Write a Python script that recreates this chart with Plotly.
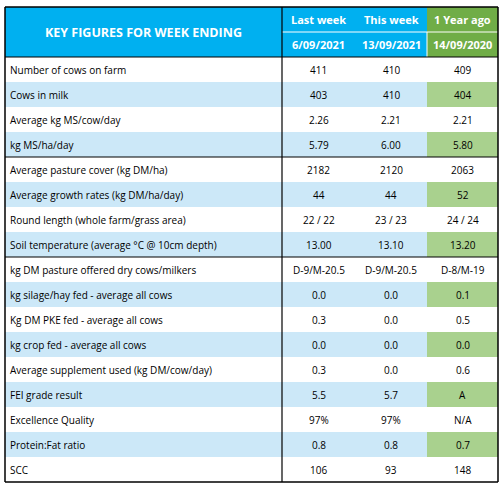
import plotly.graph_objects as go

labels = ["Number of cows on farm","Cows in milk","Average kg MS/cow/day","kg MS/ha/day",
 "Average pasture cover (kg DM/ha)","Average growth rates (kg DM/ha/day)","Round length (whole farm/grass area)",
 "Soil temperature (average °C @ 10cm depth)","kg DM pasture offered dry cows/milkers",
 "kg silage/hay fed - average all cows","Kg DM PKE fed - average all cows","kg crop fed - average all cows",
 "Average supplement used (kg DM/cow/day)","FEI grade result","Excellence Quality","Protein:Fat ratio","SCC"]
last_week = ["411","403","2.26","5.79","2182","44","22 / 22","13.00","D-9/M-20.5","0.0","0.3","0.0","0.3","5.5","97%","0.8","106"]
this_week = ["410","410","2.21","6.00","2120","44","23 / 23","13.10","D-9/M-20.5","0.0","0.0","0.0","0.0","5.7","97%","0.8","93"]
year_ago = ["409","404","2.21","5.80","2063","52","24 / 24","13.20","D-8/M-19","0.1","0.5","0.0","0.6","A","N/A","0.7","148"]
col_heads = ["Last week","This week","1 Year ago"]
col_dates = ["6/09/2021","13/09/2021","14/09/2020"]
title = "KEY FIGURES FOR WEEK ENDING"

X0, XL, XA, XB, X1 = 5, 282, 355, 427, 498
Y0, YH, YD = 7, 32, 57
RH = 25.0
BLUE, GREEN, LBLUE, LGREEN = "#00B0F0", "#70AD47", "#CCE8F8", "#A9D18E"
FONT = "Open Sans"

shapes, ann = [], []
def rect(x0, y0, x1, y1, fill):
    shapes.append(dict(type="rect", x0=x0, x1=x1, y0=y0, y1=y1, fillcolor=fill, line=dict(width=0), layer="below"))
def line(x0, y0, x1, y1, w=1, c="black"):
    shapes.append(dict(type="line", x0=x0, x1=x1, y0=y0, y1=y1, line=dict(color=c, width=w)))
def text(x, y, s, color="black", size=10, anchor="center"):
    ann.append(dict(x=x, y=y, text=s, showarrow=False, xanchor=anchor, yanchor="middle",
                    font=dict(family=FONT, size=size, color=color)))

rect(X0, Y0, XB, YD, BLUE)
rect(XB, Y0, X1, YD, GREEN)
line(XL, YH, X1, YH, 1, "white")
text((X0 + XL) / 2, (Y0 + YD) / 2, "<b>" + title + "</b>", "white", 12.5)
cx = [(XL + XA) / 2, (XA + XB) / 2, (XB + X1) / 2]
for i in range(3):
    text(cx[i], (Y0 + YH) / 2, "<b>" + col_heads[i] + "</b>", "white", 11)
    text(cx[i], (YH + YD) / 2, "<b>" + col_dates[i] + "</b>", "white", 11)

n = len(labels)
for r in range(n):
    y0 = YD + r * RH
    y1 = y0 + RH
    if r % 2 == 1:
        rect(X0, y0, XB, y1, LBLUE)
        rect(XB, y0, X1, y1, LGREEN)
    ym = (y0 + y1) / 2
    text(X0 + 3, ym, labels[r], anchor="left")
    for i, v in enumerate([last_week[r], this_week[r], year_ago[r]]):
        text(cx[i], ym, v)

YE = YD + n * RH
line(X0, Y0, X1, Y0, 1.5); line(X0, YE, X1, YE, 1.5)
line(X0, Y0, X0, YE, 1.5); line(X1, Y0, X1, YE, 1.5)
line(XL, Y0, XL, YE, 1.2); line(XB, YH, XB, YD, 1, "white")
line(X0, YD, X1, YD, 1.2)
for r in (4, 8):
    line(X0, YD + r * RH, X1, YD + r * RH, 1.2)

fig = go.Figure()
fig.update_layout(width=504, height=489, margin=dict(l=0, r=0, t=0, b=0),
                  plot_bgcolor="white", paper_bgcolor="white", shapes=shapes, annotations=ann,
                  xaxis=dict(range=[0, 504], visible=False, fixedrange=True),
                  yaxis=dict(range=[489, 0], visible=False, fixedrange=True))
fig.write_html("out.html", config={"displayModeBar": False},
               post_script="document.body.style.margin='0';document.body.style.overflow='hidden';")
